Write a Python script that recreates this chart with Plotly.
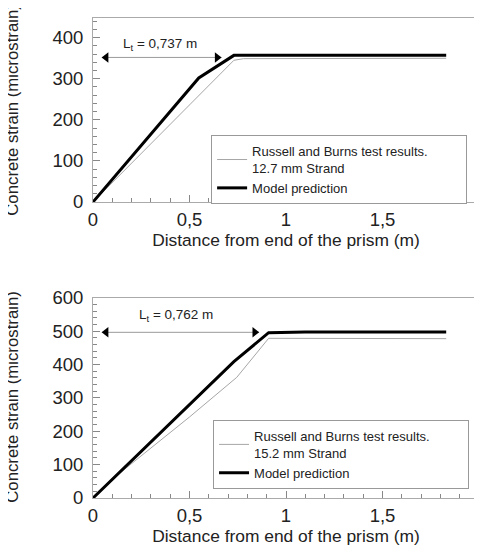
import plotly.graph_objects as go

# ---- data ----
# top panel: 12.7 mm strand
test_x_127 = [0, 0.1, 0.55, 0.73, 0.78, 1.83]
test_y_127 = [0, 47, 258, 345, 349, 350]
model_x_127 = [0, 0.548, 0.73, 1.83]
model_y_127 = [0, 302, 357, 357]
lt_127_label = "L<sub>t</sub> = 0,737 m"
lt_127_arrow_x = [0.046, 0.665]
lt_127_arrow_y = 352

# bottom panel: 15.2 mm strand
test_x_152 = [0, 0.15, 0.5, 0.745, 0.91, 1.83]
test_y_152 = [0, 80, 243, 362, 479, 478]
model_x_152 = [0, 0.73, 0.91, 1.1, 1.83]
model_y_152 = [0, 409, 496, 498, 498]
lt_152_label = "L<sub>t</sub> = 0,762 m"
lt_152_arrow_x = [0.046, 0.86]
lt_152_arrow_y = 497

x_ticks = [0, 0.5, 1, 1.5, 2]
y_title = "Concrete strain (microstrain)"
x_title = "Distance from end of the prism (m)"

FONT = "Liberation Sans, Arial, sans-serif"
GRAY = "#a6a6a6"
TXT = "#222222"
# transparent spacer that widens the legend box like the reference
PAD = "<span style='color:rgba(0,0,0,0)'>MMM</span>"

fig = go.Figure()

def add_panel(xa, ya, legend, tx, ty, mx, my, strand):
    fig.add_trace(go.Scatter(x=tx, y=ty, mode="lines", xaxis=xa, yaxis=ya,
                             line=dict(color=GRAY, width=1),
                             name=f"Russell and Burns test results.{PAD}<br>{strand} Strand",
                             legend=legend))
    fig.add_trace(go.Scatter(x=mx, y=my, mode="lines", xaxis=xa, yaxis=ya,
                             line=dict(color="black", width=3),
                             name="Model prediction", legend=legend))

add_panel("x", "y", "legend", test_x_127, test_y_127, model_x_127, model_y_127, "12.7 mm")
add_panel("x2", "y2", "legend2", test_x_152, test_y_152, model_x_152, model_y_152, "15.2 mm")

def add_arrow(xa, ya, ax, ay):
    fig.add_trace(go.Scatter(x=ax, y=[ay, ay], mode="lines", xaxis=xa, yaxis=ya,
                             line=dict(color="#9a9a9a", width=1), showlegend=False,
                             hoverinfo="skip"))
    fig.add_trace(go.Scatter(x=[ax[0] + 0.022, ax[1] - 0.022], y=[ay, ay], mode="markers",
                             xaxis=xa, yaxis=ya,
                             marker=dict(symbol=["triangle-left", "triangle-right"],
                                         size=9, color="black"),
                             showlegend=False, hoverinfo="skip"))

add_arrow("x", "y", lt_127_arrow_x, lt_127_arrow_y)
add_arrow("x2", "y2", lt_152_arrow_x, lt_152_arrow_y)

fig.add_annotation(x=0.347, y=383, xref="x", yref="y", text=lt_127_label,
                   showarrow=False, font=dict(size=13.5, color=TXT, family=FONT))
fig.add_annotation(x=0.43, y=548, xref="x2", yref="y2", text=lt_152_label,
                   showarrow=False, font=dict(size=13.5, color=TXT, family=FONT))

# y-axis titles as rotated annotations (placed like the reference)
for ypos in (0.809, 0.211):
    fig.add_annotation(x=-0.207, y=ypos, xref="paper", yref="paper", text=y_title,
                       textangle=-90, showarrow=False, xanchor="center", yanchor="middle",
                       font=dict(size=16.8, color=TXT, family=FONT))

xcommon = dict(range=[0, 2], tickvals=x_ticks, ticks="inside", ticklen=7, tickcolor="#888",
               showline=True, linecolor="#aaaaaa", linewidth=1, mirror=True,
               showgrid=False, zeroline=False, automargin=False,
               ticklabeloverflow="allow",
               minor=dict(dtick=0.1, tick0=0, ticks="inside", ticklen=4, tickcolor="#888",
                          showgrid=False),
               tickfont=dict(size=18.5, color=TXT, family=FONT),
               ticklabelstandoff=1,
               title=dict(text=x_title,
                          font=dict(size=17.4, color=TXT, family=FONT), standoff=2))
ycommon = dict(ticks="inside", ticklen=7, tickcolor="#888", dtick=100, tick0=0,
               showline=True, linecolor="#aaaaaa", linewidth=1, mirror=True,
               showgrid=False, zeroline=False, automargin=False,
               ticklabeloverflow="allow",
               minor=dict(dtick=20, tick0=0, ticks="inside", ticklen=4, tickcolor="#888",
                          showgrid=False),
               tickfont=dict(size=18.5, color=TXT, family=FONT),
               ticklabelstandoff=5)

# the page body adds an 8 px offset, so the figure is sized / placed to compensate
fig.update_layout(
    template="none",
    width=474, height=549,
    margin=dict(l=85, r=3, t=10, b=59, autoexpand=False),
    paper_bgcolor="white", plot_bgcolor="white",
    separators=", ",
    font=dict(family=FONT, color=TXT),
    xaxis=dict(domain=[0, 1], anchor="y", **xcommon),
    yaxis=dict(domain=[0.6167, 1.0], anchor="x", range=[0, 448], **ycommon),
    xaxis2=dict(domain=[0, 1], anchor="y2", **xcommon),
    yaxis2=dict(domain=[0, 0.4167], anchor="x2", range=[0, 600], **ycommon),
    legend=dict(x=0.306, y=0.756, xanchor="left", yanchor="top",
                bordercolor="#999", borderwidth=1, bgcolor="white",
                font=dict(size=13, color=TXT, family=FONT), tracegroupgap=0,
                itemwidth=30),
    legend2=dict(x=0.311, y=0.1625, xanchor="left", yanchor="top",
                 bordercolor="#999", borderwidth=1, bgcolor="white",
                 font=dict(size=13, color=TXT, family=FONT), tracegroupgap=0,
                 itemwidth=30),
    showlegend=True,
)

fig.write_html("out.html")
